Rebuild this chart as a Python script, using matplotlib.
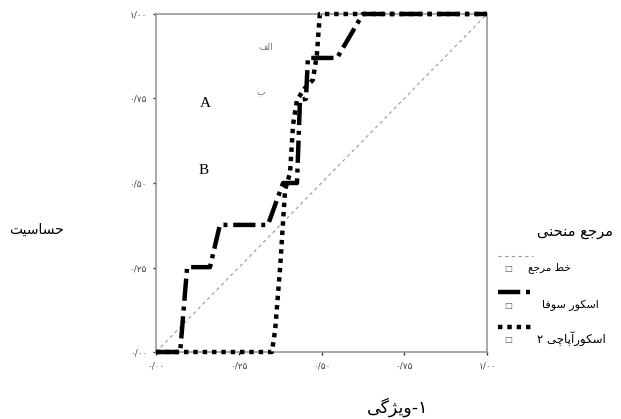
import matplotlib
matplotlib.use("Agg")
import matplotlib.pyplot as plt
from matplotlib.lines import Line2D

# ROC curve data (1 - specificity, sensitivity)
sofa_fpr = [0.0, 0.073, 0.094, 0.163, 0.193, 0.338, 0.384, 0.426, 0.435, 0.453, 0.459, 0.547, 0.625, 1.0]
sofa_tpr = [0.0, 0.0, 0.251, 0.251, 0.376, 0.376, 0.50, 0.50, 0.746, 0.749, 0.870, 0.870, 1.0, 1.0]

apache_fpr = [0.0, 0.350, 0.360, 0.375, 0.390, 0.405, 0.414, 0.426, 0.450, 0.474, 0.486, 0.495, 1.0]
apache_tpr = [0.0, 0.0, 0.065, 0.25, 0.48, 0.53, 0.672, 0.746, 0.781, 0.805, 0.879, 1.0, 1.0]

ref_x = [0.0, 1.0]
ref_y = [0.0, 1.0]

ticks = [0.0, 0.25, 0.5, 0.75, 1.0]
tick_labels = ["۰/۰۰", "۰/۲۵", "۰/۵۰", "۰/۷۵", "۱/۰۰"]

legend_title = "مرجع منحنی"
legend_names = ["خط مرجع", "اسکور سوفا", "اسکورآپاچی ۲"]

# ── tiny Persian shaper: presentation forms + right-to-left order ──
FORMS = {
    "ا": ("\uFE8D", "\uFE8E", None, None),
    "آ": ("\uFE81", "\uFE82", None, None),
    "ب": ("\uFE8F", "\uFE90", "\uFE91", "\uFE92"),
    "پ": ("\uFB56", "\uFB57", "\uFB58", "\uFB59"),
    "ت": ("\uFE95", "\uFE96", "\uFE97", "\uFE98"),
    "ج": ("\uFE9D", "\uFE9E", "\uFE9F", "\uFEA0"),
    "چ": ("\uFB7A", "\uFB7B", "\uFB7C", "\uFB7D"),
    "ح": ("\uFEA1", "\uFEA2", "\uFEA3", "\uFEA4"),
    "خ": ("\uFEA5", "\uFEA6", "\uFEA7", "\uFEA8"),
    "ر": ("\uFEAD", "\uFEAE", None, None),
    "ژ": ("\uFB8A", "\uFB8B", None, None),
    "س": ("\uFEB1", "\uFEB2", "\uFEB3", "\uFEB4"),
    "ط": ("\uFEC1", "\uFEC2", "\uFEC3", "\uFEC4"),
    "ع": ("\uFEC9", "\uFECA", "\uFECB", "\uFECC"),
    "ف": ("\uFED1", "\uFED2", "\uFED3", "\uFED4"),
    "ک": ("\uFB8E", "\uFB8F", "\uFB90", "\uFB91"),
    "گ": ("\uFB92", "\uFB93", "\uFB94", "\uFB95"),
    "ل": ("\uFEDD", "\uFEDE", "\uFEDF", "\uFEE0"),
    "م": ("\uFEE1", "\uFEE2", "\uFEE3", "\uFEE4"),
    "ن": ("\uFEE5", "\uFEE6", "\uFEE7", "\uFEE8"),
    "و": ("\uFEED", "\uFEEE", None, None),
    "ی": ("\uFBFC", "\uFBFD", "\uFBFE", "\uFBFF"),
}


def fa(text):
    out = []
    for i, ch in enumerate(text):
        if ch not in FORMS:
            out.append(ch)
            continue
        prev = text[i - 1] if i > 0 else ""
        nxt = text[i + 1] if i + 1 < len(text) else ""
        iso, fin, ini, med = FORMS[ch]
        link_prev = prev in FORMS and FORMS[prev][2] is not None
        link_next = ini is not None and nxt in FORMS
        if link_prev and link_next:
            out.append(med)
        elif link_prev:
            out.append(fin)
        elif link_next:
            out.append(ini)
        else:
            out.append(iso)
    return "".join(reversed(out))


plt.rcParams["font.family"] = ["DejaVu Sans"]

W, H = 621, 419
fig = plt.figure(figsize=(W / 100, H / 100), dpi=100)
fig.patch.set_facecolor("white")
ax = fig.add_axes([156 / W, 1 - 352 / H, 331 / W, 338 / H])

REF_C = "#9a9a9a"
SOFA_DASH = (5, 1.3, 0.9, 1.3)

ax.plot(ref_x, ref_y, color=REF_C, lw=0.8, dashes=(3, 3), zorder=2)
ax.plot(apache_fpr, apache_tpr, color="black", lw=3.2, dashes=(1, 1.1),
        dash_capstyle="butt", clip_on=False, zorder=3)
ax.plot(sofa_fpr, sofa_tpr, color="black", lw=3.2, dashes=SOFA_DASH,
        solid_joinstyle="miter", clip_on=False, zorder=4)

ax.set_xlim(0, 1)
ax.set_ylim(0, 1)
ax.set_xticks(ticks)
ax.set_yticks(ticks)
ax.set_xticklabels(tick_labels)
ax.set_yticklabels(tick_labels)
ax.tick_params(length=2.5, width=1, color="#333333", labelsize=6.5,
               labelcolor="#444444", pad=4)
for sp in ax.spines.values():
    sp.set_color("#999999")
    sp.set_linewidth(1.2)

# panel markers
ax.text(0.148, 0.734, "A", fontsize=11, family="Liberation Serif", ha="center", va="center")
ax.text(0.145, 0.536, "B", fontsize=11, family="Liberation Serif", ha="center", va="center")
ax.text(0.332, 0.902, fa("الف"), fontsize=6.5, color="#777777", ha="center", va="center")
ax.text(0.317, 0.769, fa("ب"), fontsize=6.5, color="#777777", ha="center", va="center")

# axis titles
fig.text(37 / W, 1 - 230 / H, fa("حساسیت"), fontsize=10, ha="center", va="center")
fig.text(398 / W, 1 - 407 / H, fa("۱-ویژگی"), fontsize=12.5, ha="center", va="center")

# legend, drawn by hand
fig.text(575 / W, 1 - 231 / H, fa(legend_title), fontsize=10.5, ha="center", va="center")
styles = [
    dict(color=REF_C, lw=0.8, dashes=(3, 3)),
    dict(color="black", lw=3.2, dashes=SOFA_DASH),
    dict(color="black", lw=3.2, dashes=(1, 1.1), dash_capstyle="butt"),
]
line_y = [256, 292, 327]
text_y = [268, 305, 339]
text_x = [549, 570, 571]
text_fs = [7.5, 8, 8.5]
for name, st, ly, ty, tx, fs in zip(legend_names, styles, line_y, text_y, text_x, text_fs):
    fig.add_artist(Line2D([498 / W, 533 / W], [1 - ly / H, 1 - ly / H],
                          transform=fig.transFigure, **st))
    fig.text(508 / W, 1 - ty / H, "\u25A1", fontsize=6, color="#555555",
             ha="center", va="center")
    fig.text(tx / W, 1 - ty / H, fa(name), fontsize=fs, ha="center", va="center")

fig.savefig("out.png", dpi=100, facecolor="white")
